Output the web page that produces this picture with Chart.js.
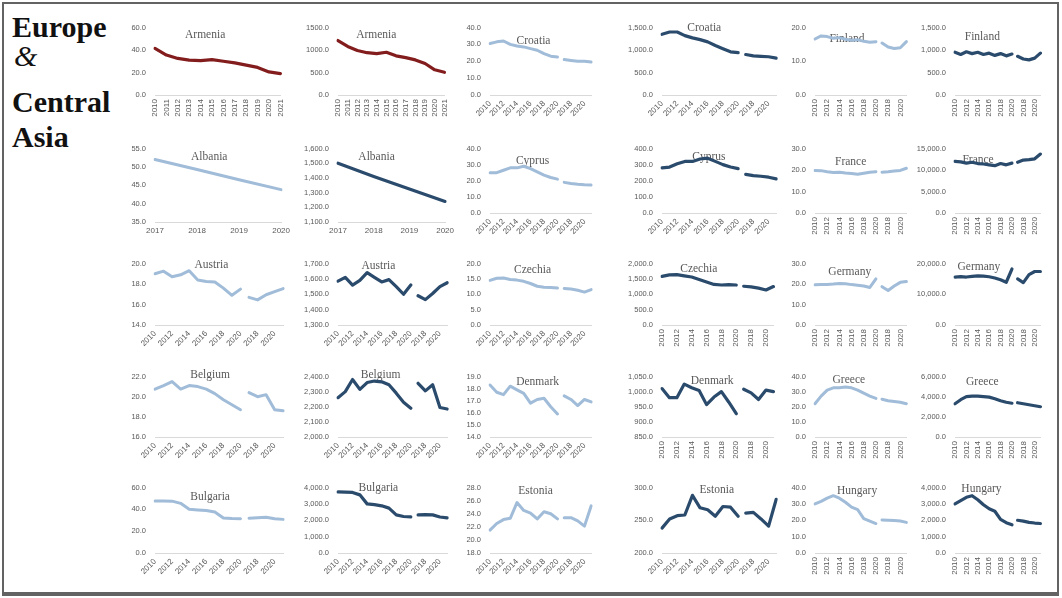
<!DOCTYPE html>
<html>
<head>
<meta charset="utf-8">
<script src="https://cdn.jsdelivr.net/npm/chart.js@4.4.0/dist/chart.umd.min.js"></script>
<style>
  html, body { margin: 0; padding: 0; background: #fff; }
  body { width: 1062px; height: 598px; position: relative; overflow: hidden; }
  #frame { position: absolute; left: 2px; top: 2px; width: 1053px; height: 588px;
           border: 2px solid #636363; border-bottom-width: 4px; }
  .ttl { position: absolute; left: 12px; font-family: 'Liberation Serif', serif; font-size: 30px;
         line-height: 30px; color: #111; font-weight: bold; white-space: nowrap; }
  canvas { position: absolute; }
</style>
</head>
<body>
<div id="frame"></div>
<div class="ttl" style="top:12px">Europe</div>
<div class="ttl" style="top:41px;left:14px;font-weight:normal;font-style:italic">&amp;</div>
<div class="ttl" style="top:87px">Central</div>
<div class="ttl" style="top:122px">Asia</div>
<script>
// ---- categories ----
const years = ['2010','2011','2012','2013','2014','2015','2016','2017','2018','2019','2020'];
const laterYears = ['2017','2018','2019','2020','2021'];
const armeniaYears = ['2010','2011','2012','2013','2014','2015','2016','2017','2018','2019','2020','2021'];
const albaniaYears = ['2017','2018','2019','2020'];

// ---- series: rate (light) and count (dark); "Later" = second, newer series ----
const armeniaRate  = [41.5, 35.5, 32.5, 31, 30.5, 31.5, 30, 28.5, 26.5, 24.5, 20.5, 19];
const armeniaCount = [1210, 1080, 990, 940, 920, 950, 870, 830, 780, 700, 560, 505];

const croatiaRate       = [30.5, 31.5, 32, 30, 29, 28.5, 27.5, 26.5, 24.5, 23, 22.5];
const croatiaRateLater  = [21, 20.5, 20, 20, 19.5];
const croatiaCount      = [1350, 1400, 1400, 1320, 1270, 1230, 1180, 1100, 1030, 960, 940];
const croatiaCountLater = [900, 870, 860, 850, 820];

const finlandRate       = [16.6, 17.5, 17.3, 16.8, 17.0, 16.5, 16.2, 16.4, 15.9, 15.6, 15.8];
const finlandRateLater  = [15.4, 14.2, 13.8, 14.0, 15.8];
const finlandCount      = [950, 900, 960, 920, 950, 900, 930, 880, 920, 870, 910];
const finlandCountLater = [860, 800, 780, 820, 930];

const albaniaRate  = [52.0, 49.3, 46.5, 43.8];
const albaniaCount = [1500, 1410, 1325, 1240];

const cyprusRate       = [25, 25, 26.5, 28, 28, 29, 27.5, 25.5, 23.5, 22, 21];
const cyprusRateLater  = [19, 18.3, 17.8, 17.5, 17.3];
const cyprusCount      = [280, 285, 305, 320, 320, 335, 340, 320, 300, 285, 275];
const cyprusCountLater = [240, 232, 228, 222, 212];

const franceRate       = [19.8, 19.7, 19.2, 18.8, 18.9, 18.6, 18.4, 18.0, 18.5, 19.0, 19.2];
const franceRateLater  = [19.0, 19.2, 19.5, 19.8, 20.8];
const franceCount      = [12000, 11900, 11600, 11800, 11500, 11400, 11200, 11000, 11500, 11200, 11600];
const franceCountLater = [11800, 12300, 12400, 12600, 13700];

const austriaRate       = [19.0, 19.25, 18.7, 18.9, 19.3, 18.4, 18.25, 18.2, 17.6, 16.9, 17.5];
const austriaRateLater  = [16.7, 16.45, 16.95, 17.25, 17.55];
const austriaCount      = [1585, 1610, 1560, 1590, 1640, 1610, 1580, 1595, 1550, 1500, 1560];
const austriaCountLater = [1490, 1465, 1505, 1550, 1575];

const czechiaRate       = [14.5, 15.2, 15.3, 14.8, 14.6, 14.2, 13.5, 12.6, 12.3, 12.2, 12.0];
const czechiaRateLater  = [11.9, 11.7, 11.3, 10.7, 11.5];
const czechiaCount      = [1580, 1630, 1640, 1600, 1560, 1480, 1400, 1320, 1300, 1310, 1300];
const czechiaCountLater = [1260, 1240, 1200, 1140, 1250];

const germanyRate       = [19.6, 19.8, 19.8, 20.0, 20.3, 20.1, 19.7, 19.4, 19.0, 18.3, 22.5];
const germanyRateLater  = [18.7, 16.8, 19.0, 20.8, 21.2];
const germanyCount      = [15600, 15700, 15600, 15800, 16000, 15900, 15700, 15300, 14700, 13900, 18200];
const germanyCountLater = [15000, 13800, 16400, 17400, 17400];

const belgiumRate       = [20.75, 21.1, 21.5, 20.75, 21.1, 21.0, 20.75, 20.3, 19.7, 19.2, 18.7];
const belgiumRateLater  = [20.4, 20.0, 20.2, 18.7, 18.6];
const belgiumCount      = [2260, 2300, 2380, 2315, 2360, 2370, 2365, 2345, 2290, 2230, 2190];
const belgiumCountLater = [2355, 2305, 2345, 2195, 2185];

const denmarkRate       = [18.3, 17.7, 17.5, 18.2, 17.9, 17.6, 16.8, 17.1, 17.2, 16.5, 15.9];
const denmarkRateLater  = [17.4, 17.1, 16.6, 17.1, 16.9];
const denmarkCount      = [1010, 980, 980, 1025, 1013, 1004, 957, 982, 1000, 965, 927];
const denmarkCountLater = [1008, 996, 974, 1005, 1000];

const greeceRate       = [22, 27, 31, 32.5, 32.5, 33, 32.5, 31, 29, 27, 25.5];
const greeceRateLater  = [25, 24, 23.5, 23, 22];
const greeceCount      = [3300, 3700, 4000, 4050, 4050, 4000, 3950, 3800, 3600, 3450, 3350];
const greeceCountLater = [3400, 3300, 3200, 3100, 3000];

const bulgariaRate       = [47.7, 47.7, 47.5, 45.5, 40, 39.5, 39, 37.5, 32, 31.5, 31.3];
const bulgariaRateLater  = [31.9, 32.3, 32.7, 31.4, 30.8];
const bulgariaCount      = [3730, 3720, 3700, 3550, 3000, 2950, 2880, 2740, 2330, 2230, 2210];
const bulgariaCountLater = [2330, 2340, 2330, 2200, 2150];

const estoniaRate       = [21.5, 22.5, 23.1, 23.3, 25.7, 24.5, 24.1, 23.2, 24.3, 24.0, 23.2];
const estoniaRateLater  = [23.4, 23.4, 22.9, 22.1, 25.2];
const estoniaCount      = [238, 252, 257, 258, 288, 269, 266, 256, 271, 270, 256];
const estoniaCountLater = [261, 262, 252, 241, 282];

const hungaryRate       = [30, 31.5, 33.5, 35, 33.5, 31, 28, 26.5, 21, 19.5, 18];
const hungaryRateLater  = [20.2, 20, 19.8, 19.5, 18.7];
const hungaryCount      = [3000, 3200, 3400, 3500, 3250, 2950, 2700, 2550, 2050, 1850, 1720];
const hungaryCountLater = [2000, 1950, 1870, 1830, 1800];

// ---- look ----
const LIGHT = '#a0bcd8', DARK = '#2b4b6d', RED = '#831d1d', INK = '#595959';
Chart.defaults.font.family = "'Liberation Sans', Arial, sans-serif";

// grid of small multiples: canvas left, y-axis width, plot right per column; plot top/bottom per row
const COLS = [
  { left: 112, yW: 43, right: 292 },
  { left: 294, yW: 44, right: 456 },
  { left: 458, yW: 32, right: 600 },
  { left: 616, yW: 46, right: 785 },
  { left: 784, yW: 31, right: 918 },
  { left: 910, yW: 45, right: 1052 }
];
const ROWS = [
  { top: 22, bottom: 95 },
  { top: 143, bottom: 213 },
  { top: 258, bottom: 325 },
  { top: 371, bottom: 437 },
  { top: 482, bottom: 553 }
];

// p(row, col, name, main, later, colour, min, max, step, rotation, titleFrac, titleDy)
function p(row, col, name, main, later, color, min, max, step, rot, tf, tdy, opts) {
  return Object.assign({ row, col, name, main, later, color, min, max, step, rot, tf, tdy, sep: true }, opts || {});
}

const panels = [
  p(0,0,'Armenia', armeniaRate, null, RED, 0, 60, 20, 90, 0.40, 7, { labels: armeniaYears }),
  p(0,1,'Armenia', armeniaCount, null, RED, 0, 1500, 500, 90, 0.36, 7, { labels: armeniaYears, sep: false }),
  p(0,2,'Croatia', croatiaRate, croatiaRateLater, LIGHT, 0, 40, 10, 45, 0.43, 13),
  p(0,3,'Croatia', croatiaCount, croatiaCountLater, DARK, 0, 1500, 500, 45, 0.37, 0),
  p(0,4,'Finland', finlandRate, finlandRateLater, LIGHT, 0, 20, 10, 90, 0.35, 11),
  p(0,5,'Finland', finlandCount, finlandCountLater, DARK, 0, 1500, 500, 90, 0.32, 9),

  p(1,0,'Albania', albaniaRate, null, LIGHT, 35, 55, 5, 0, 0.43, 8, { labels: albaniaYears }),
  p(1,1,'Albania', albaniaCount, null, DARK, 1100, 1600, 100, 0, 0.36, 8, { labels: albaniaYears }),
  p(1,2,'Cyprus', cyprusRate, cyprusRateLater, LIGHT, 0, 40, 10, 45, 0.42, 12),
  p(1,3,'Cyprus', cyprusCount, cyprusCountLater, DARK, 0, 400, 100, 45, 0.41, 8),
  p(1,4,'France', franceRate, franceRateLater, LIGHT, 0, 30, 10, 90, 0.39, 13),
  p(1,5,'France', franceCount, franceCountLater, DARK, 0, 15000, 5000, 90, 0.27, 11),

  p(2,0,'Austria', austriaRate, austriaRateLater, LIGHT, 14, 20, 2, 45, 0.44, 1),
  p(2,1,'Austria', austriaCount, austriaCountLater, DARK, 1300, 1700, 100, 45, 0.37, 2),
  p(2,2,'Czechia', czechiaRate, czechiaRateLater, LIGHT, 0, 20, 5, 45, 0.42, 6),
  p(2,3,'Czechia', czechiaCount, czechiaCountLater, DARK, 0, 2000, 500, 90, 0.33, 5),
  p(2,4,'Germany', germanyRate, germanyRateLater, LIGHT, 0, 30, 10, 90, 0.38, 8),
  p(2,5,'Germany', germanyCount, germanyCountLater, DARK, 0, 20000, 10000, 90, 0.28, 3),

  p(3,0,'Belgium', belgiumRate, belgiumRateLater, LIGHT, 16, 22, 2, 45, 0.43, -2),
  p(3,1,'Belgium', belgiumCount, belgiumCountLater, DARK, 2000, 2400, 100, 45, 0.39, -2),
  p(3,2,'Denmark', denmarkRate, denmarkRateLater, LIGHT, 14, 19, 1, 45, 0.47, 5),
  p(3,3,'Denmark', denmarkCount, denmarkCountLater, DARK, 850, 1050, 50, 90, 0.45, 4),
  p(3,4,'Greece', greeceRate, greeceRateLater, LIGHT, 0, 40, 10, 90, 0.37, 3),
  p(3,5,'Greece', greeceCount, greeceCountLater, DARK, 0, 6000, 2000, 90, 0.32, 5),

  p(4,0,'Bulgaria', bulgariaRate, bulgariaRateLater, LIGHT, 0, 60, 20, 45, 0.43, 9),
  p(4,1,'Bulgaria', bulgariaCount, bulgariaCountLater, DARK, 0, 4000, 1000, 45, 0.37, 0),
  p(4,2,'Estonia', estoniaRate, estoniaRateLater, LIGHT, 18, 28, 2, 45, 0.45, 3),
  p(4,3,'Estonia', estoniaCount, estoniaCountLater, DARK, 200, 300, 50, 45, 0.48, 2),
  p(4,4,'Hungary', hungaryRate, hungaryRateLater, LIGHT, 0, 40, 10, 90, 0.46, 3),
  p(4,5,'Hungary', hungaryCount, hungaryCountLater, DARK, 0, 4000, 1000, 90, 0.31, 1)
];

// country name written inside the plot area, under the line
const panelTitle = {
  id: 'panelTitle',
  beforeDatasetsDraw(chart, args, o) {
    const a = chart.chartArea, ctx = chart.ctx;
    ctx.save();
    ctx.font = "11.5px 'Liberation Serif', serif";
    ctx.fillStyle = INK;
    ctx.textAlign = 'center';
    ctx.textBaseline = 'middle';
    ctx.fillText(o.text, a.left + o.f * (a.right - a.left), a.top + o.dy);
    ctx.restore();
  }
};

function fmt(v, sep) {
  return sep ? v.toLocaleString('en-US', { minimumFractionDigits: 1, maximumFractionDigits: 1 })
             : v.toFixed(1);
}

function lineSet(data, color) {
  return { data, borderColor: color, borderWidth: color === LIGHT ? 3 : 3.2, pointRadius: 0,
           tension: 0, fill: false, borderCapStyle: 'round', borderJoinStyle: 'round', spanGaps: false };
}

panels.forEach(pn => {
  const c = COLS[pn.col], r = ROWS[pn.row];
  const xH = pn.rot === 0 ? 19 : 28;
  const cv = document.createElement('canvas');
  const w = c.right - c.left + 2, h = r.bottom - r.top + 8 + 28;
  cv.width = w; cv.height = h;
  cv.style.left = c.left + 'px';
  cv.style.top = (r.top - 8) + 'px';
  document.body.appendChild(cv);

  let labels, datasets, everyOther;
  if (pn.later) {
    labels = years.concat(laterYears);
    const first = pn.main.concat(laterYears.map(() => null));
    const second = years.map(() => null).concat(pn.later);
    datasets = [lineSet(first, pn.color), lineSet(second, pn.color)];
    everyOther = true;
  } else {
    labels = pn.labels;
    datasets = [lineSet(pn.main, pn.color)];
    everyOther = false;
  }

  new Chart(cv, {
    type: 'line',
    data: { labels, datasets },
    plugins: [panelTitle],
    options: {
      responsive: false,
      animation: false,
      devicePixelRatio: 1,
      layout: { padding: { top: 8, right: 2, bottom: 0, left: 0 } },
      plugins: {
        legend: { display: false },
        tooltip: { enabled: false },
        panelTitle: { text: pn.name, f: pn.tf, dy: pn.tdy }
      },
      scales: {
        x: {
          offset: false,
          grid: { display: false, drawTicks: false },
          border: { display: true, color: '#d9d9d9', width: 1 },
          ticks: {
            autoSkip: false, minRotation: pn.rot, maxRotation: pn.rot,
            color: INK, font: { size: 8 }, padding: 4,
            callback(v, i) { return (everyOther && i % 2) ? '' : this.getLabelForValue(v); }
          },
          afterFit(s) { s.height = xH; }
        },
        y: {
          min: pn.min, max: pn.max,
          grid: { display: false, drawTicks: false },
          border: { display: false },
          ticks: { stepSize: pn.step, color: INK, font: { size: 7.5 }, padding: 9,
                   callback: v => fmt(v, pn.sep) },
          afterFit(s) { s.width = c.yW; }
        }
      }
    }
  });
});
</script>
</body>
</html>
